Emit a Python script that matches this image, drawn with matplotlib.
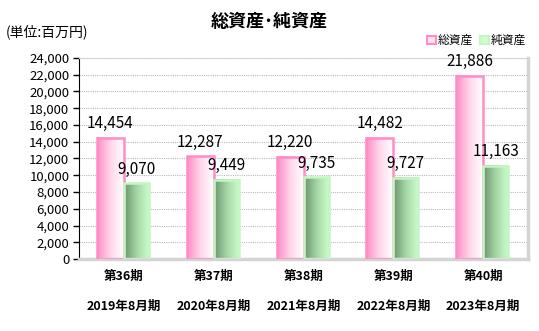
import numpy as np
import matplotlib
matplotlib.use('Agg')
import matplotlib.pyplot as plt
from matplotlib.colors import LinearSegmentedColormap
from matplotlib.patches import Rectangle, Patch

plt.rcParams['font.family'] = ['Noto Sans CJK JP', 'DejaVu Sans']

periods = ['第36期', '第37期', '第38期', '第39期', '第40期']
years = ['2019年8月期', '2020年8月期', '2021年8月期', '2022年8月期', '2023年8月期']
total_assets = [14454, 12287, 12220, 14482, 21886]
net_assets = [9070, 9449, 9735, 9727, 11163]

pink_cmap = LinearSegmentedColormap.from_list('pk', ['#ff8cc6', '#ffd6ea', '#ffffff'])
green_cmap = LinearSegmentedColormap.from_list('gr', ['#6a956c', '#a6d6a6', '#ccffcc'])
grad = np.linspace(0, 1, 64).reshape(1, -1)

fig = plt.figure(figsize=(5.39, 3.31), dpi=100)
ax = fig.add_axes([0.1466, 0.2175, 0.8330, 0.6073])

x = np.arange(len(periods))
wp, wg = 0.30, 0.28


def grad_bar(x0, w, h, cmap, edge):
    ax.imshow(grad, cmap=cmap, extent=(x0, x0 + w, 0, h), aspect='auto', zorder=2,
              interpolation='bilinear')
    ax.add_patch(Rectangle((x0, 0), w, h, fill=False, edgecolor=edge, lw=1.8, zorder=3))


for i in x:
    grad_bar(i - wp, wp, total_assets[i], pink_cmap, '#ff8cc6')
    grad_bar(i, wg, net_assets[i], green_cmap, '#c4f5c4')
    ax.annotate(f'{total_assets[i]:,}', (i - wp / 2, total_assets[i]), xytext=(0, 4),
                textcoords='offset points', ha='center', va='bottom', fontsize=11)
    ax.annotate(f'{net_assets[i]:,}', (i + wg / 2, net_assets[i]), xytext=(0, 4),
                textcoords='offset points', ha='center', va='bottom', fontsize=11)

ax.set_xlim(-0.5, 4.5)
ax.set_ylim(0, 24000)
ax.set_yticks(range(0, 24001, 2000))
ax.set_yticklabels([f'{v:,}' for v in range(0, 24001, 2000)], fontsize=9.5)
ax.set_xticks(x)
ax.set_xticklabels([f'{p}\n\n{y}' for p, y in zip(periods, years)], fontsize=9,
                   fontweight='bold', linespacing=1.2)
ax.tick_params(axis='x', length=0, pad=8)
ax.tick_params(axis='y', length=4, width=1, direction='out', pad=3)
ax.yaxis.grid(True, linestyle=(0, (1, 1)), color='#bbbbbb', lw=0.8)
ax.set_axisbelow(True)

ax.spines['left'].set_color('black')
ax.spines['top'].set_color('#d4d4d4')
ax.spines['right'].set_color('#d4d4d4')
ax.spines['right'].set_linewidth(2.5)
ax.spines['bottom'].set_color('#d4d4d4')
ax.spines['bottom'].set_linewidth(2.5)

fig.text(0.5, 0.935, '総資産･純資産', ha='center', va='center', fontsize=13, fontweight='bold')
fig.text(0.01, 0.905, '(単位:百万円)', ha='left', va='center', fontsize=10)

handles = [Patch(facecolor='#ffe0f0', edgecolor='#ff8cc6', lw=1.5, label='総資産'),
           Patch(facecolor='#ccffcc', edgecolor='#c4f5c4', lw=1.5, label='純資産')]
fig.legend(handles=handles, loc='center right', bbox_to_anchor=(0.985, 0.878), ncol=2,
           frameon=False, fontsize=8.5, handlelength=0.7, handleheight=0.7,
           handletextpad=0.2, columnspacing=0.6, borderaxespad=0)

fig.savefig('out.png', dpi=100)
